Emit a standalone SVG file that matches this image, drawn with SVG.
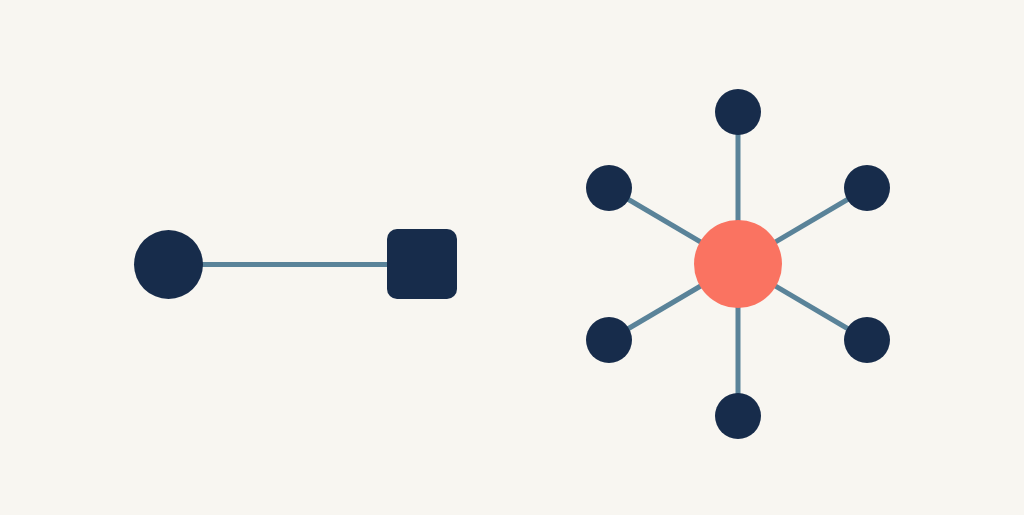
<svg xmlns="http://www.w3.org/2000/svg" width="1024" height="515" viewBox="0 0 1024 515">
<style>
.edge{stroke:#5a8399;stroke-width:5;stroke-linecap:butt;fill:none}
.dark{fill:#172c4b}
.hub{fill:#fa7361}
</style>
<rect width="1024" height="515" fill="#f8f6f1"/>
<g id="connectors">
<line class="edge" x1="168.5" y1="264.5" x2="422" y2="264.5"/>
<line class="edge" x1="738" y1="264" x2="738" y2="112"/>
<line class="edge" x1="738" y1="264" x2="738" y2="416"/>
<line class="edge" x1="738" y1="264" x2="609" y2="188"/>
<line class="edge" x1="738" y1="264" x2="867" y2="188"/>
<line class="edge" x1="738" y1="264" x2="609" y2="340"/>
<line class="edge" x1="738" y1="264" x2="867" y2="340"/>
</g>
<g id="left-circle"><circle class="dark" cx="168.5" cy="264.5" r="34.5"/></g>
<g id="left-square"><rect class="dark" x="387" y="229" width="70" height="70" rx="10"/></g>
<g id="hub"><circle class="hub" cx="738" cy="264" r="44"/></g>
<g id="node-top"><circle class="dark" cx="738" cy="112" r="23"/></g>
<g id="node-bottom"><circle class="dark" cx="738" cy="416" r="23"/></g>
<g id="node-upper-left"><circle class="dark" cx="609" cy="188" r="23"/></g>
<g id="node-upper-right"><circle class="dark" cx="867" cy="188" r="23"/></g>
<g id="node-lower-left"><circle class="dark" cx="609" cy="340" r="23"/></g>
<g id="node-lower-right"><circle class="dark" cx="867" cy="340" r="23"/></g>
</svg>
